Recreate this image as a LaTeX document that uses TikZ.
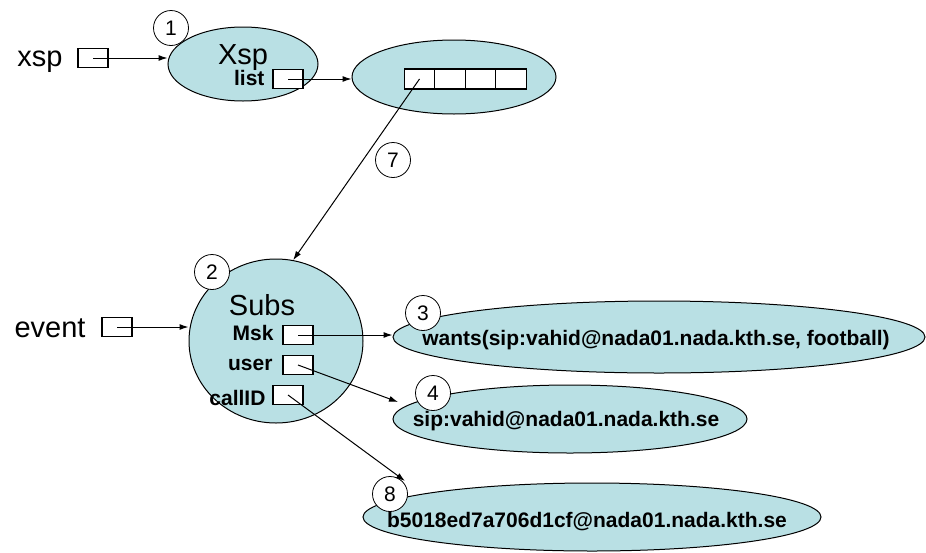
\documentclass[tikz,border=0pt]{standalone}
\usepackage{fontspec}
\setmainfont{Liberation Sans}
\usetikzlibrary{shapes.geometric,arrows.meta}
\definecolor{c3}{HTML}{B9E0E4}

\begin{document}
\begin{tikzpicture}[x=1pt, y=-1pt, >={Latex[length=9pt,width=6pt]},
    blob/.style={ellipse, draw, fill=c3, line width=1pt, inner sep=0pt},
    slot/.style={draw, fill=white, line width=1.2pt, minimum width=30pt, minimum height=19pt, inner sep=0pt},
    tag/.style={circle, draw, fill=white, line width=0.8pt, minimum size=35pt, inner sep=0pt, font=\fontsize{21}{21}\selectfont},
    big/.style={font=\fontsize{29}{29}\selectfont},
    field/.style={font=\fontsize{21}{21}\selectfont\bfseries},
    val/.style={font=\fontsize{21}{21}\selectfont\bfseries},
    link/.style={->, line width=1pt}]
    \useasboundingbox (0,0) rectangle (926,552);

    % the Xsp object and its list
    \node[blob, minimum width=150pt, minimum height=74pt] (xsp) at (243,64) {};
    \node[tag] (n1) at (171,28) {1};
    \node[big, anchor=base] (xsptitle) at (243,64) {Xsp};
    \node[field, anchor=base east] (listlbl) at (268,85) {list};
    \node[slot] (listbox) at (288,79) {};
    \node[big, anchor=base] (xsplbl) at (40,66) {xsp};
    \node[slot] (xspbox) at (93,58) {};
    \node[blob, minimum width=204pt, minimum height=74pt] (arr) at (454,77) {};
    \foreach \i in {0,...,3}
        \node[slot, minimum width=30.5pt, minimum height=20pt] (cell\i) at (419.5+30.5*\i,79) {};

    % the Subs object
    \node[blob, minimum width=174pt, minimum height=164pt] (subs) at (276,341) {};
    \node[tag] (n2) at (212,272) {2};
    \node[big, anchor=base] (substitle) at (262,315) {Subs};
    \node[field, anchor=base east] (msklbl) at (277,340) {Msk};
    \node[slot] (mskbox) at (298,335) {};
    \node[field, anchor=base east] (userlbl) at (276,370) {user};
    \node[slot] (userbox) at (298,365) {};
    \node[field, anchor=base east] (calllbl) at (269,405) {callID};
    \node[slot] (callbox) at (288,395) {};
    \node[big, anchor=base] (eventlbl) at (50,337) {event};
    \node[slot] (eventbox) at (117,327) {};

    % values
    \node[blob, minimum width=532pt, minimum height=72pt] (want) at (659,337) {};
    \node[val, anchor=base] (wanttxt) at (656,345) {wants(sip:vahid@nada01.nada.kth.se, football)};
    \node[tag] (n3) at (423,313) {3};
    \node[blob, minimum width=354pt, minimum height=68pt] (sip) at (570,419) {};
    \node[val, anchor=base] (siptxt) at (566,426) {sip:vahid@nada01.nada.kth.se};
    \node[tag] (n4) at (433,393) {4};
    \node[blob, minimum width=458pt, minimum height=68pt] (cid) at (592,517) {};
    \node[val, anchor=base] (cidtxt) at (587,527) {b5018ed7a706d1cf@nada01.nada.kth.se};
    \node[tag] (n8) at (390,494) {8};
    \node[tag] (n7) at (393,160) {7};

    \coordinate (tip4) at (398,402);
    \coordinate (tip8) at (405,481);

    \draw[link] (xspbox.center) -- (xspbox.center -| xsp.west);
    \draw[link] (listbox.center) -- (listbox.center -| arr.west);
    \draw[link] (cell0.center) -- (subs.78);
    \draw[link] (eventbox.center) -- (eventbox.center -| subs.west);
    \draw[link] (mskbox.center) -- (mskbox.center -| want.west);
    \draw[link] (userbox.center) -- (tip4);
    \draw[link] (callbox.center) -- (tip8);
\end{tikzpicture}
\end{document}
